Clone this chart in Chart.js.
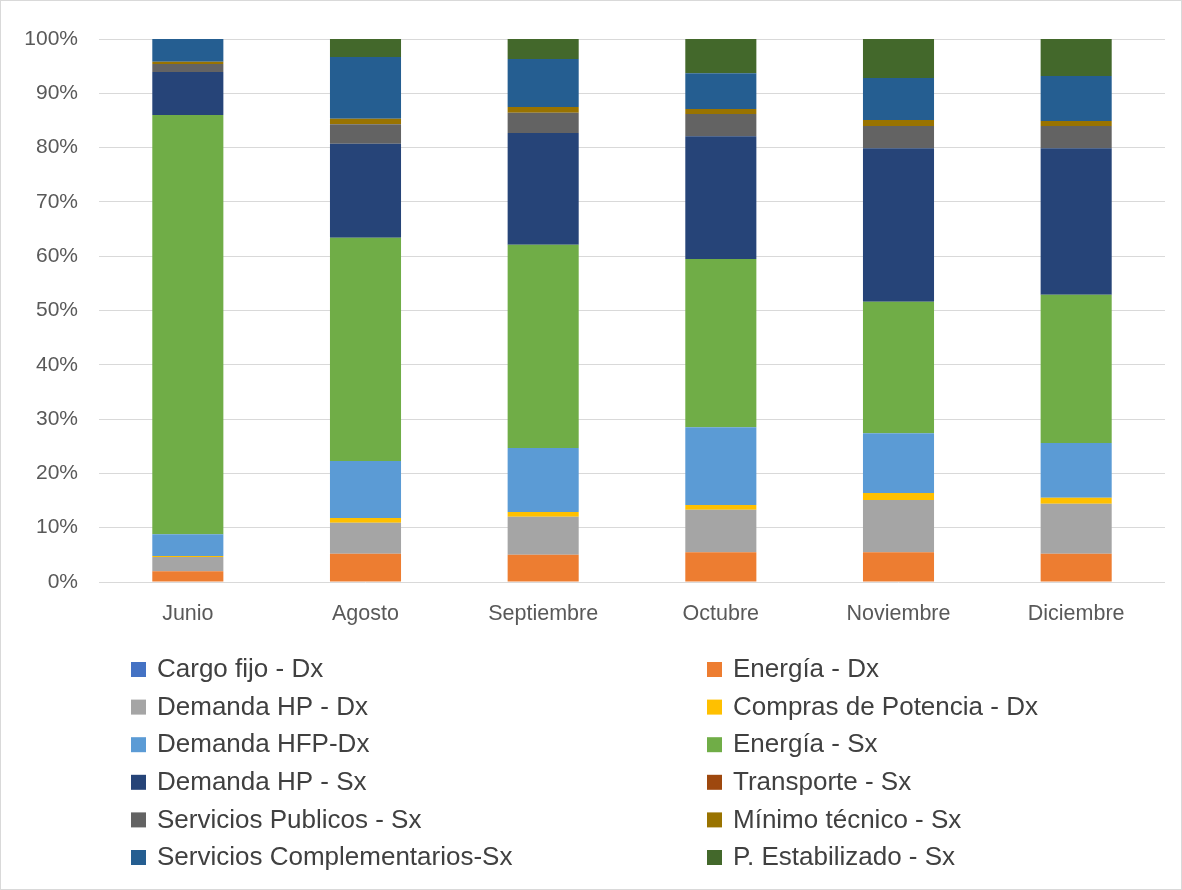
<!DOCTYPE html>
<html>
<head>
<meta charset="utf-8">
<script src="https://cdn.jsdelivr.net/npm/chart.js@4/dist/chart.umd.min.js"></script>
<style>
  html, body { margin: 0; padding: 0; background: #fff; }
  canvas { display: block; }
</style>
</head>
<body>
<canvas id="chart" width="1182" height="890"></canvas>
<script>
// Months on the x axis
const months = ['Junio', 'Agosto', 'Septiembre', 'Octubre', 'Noviembre', 'Diciembre'];

// Share of each cost component per month (%)
const cargoFijoDx      = [0, 0, 0, 0, 0, 0];
const energiaDx        = [2.0, 5.2, 5.0, 5.5, 5.5, 5.2];
const demandaHpDx      = [2.6, 5.7, 7.0, 7.8, 9.6, 9.2];
const comprasPotDx     = [0.2, 0.9, 0.9, 0.9, 1.3, 1.1];
const demandaHfpDx     = [4.0, 10.5, 11.8, 14.3, 11.0, 10.1];
const energiaSx        = [77.2, 41.1, 37.4, 31.0, 24.2, 27.3];
const demandaHpSx      = [7.9, 17.3, 20.6, 22.6, 28.3, 27.0];
const transporteSx     = [0, 0, 0, 0, 0, 0];
const serviciosPubSx   = [1.5, 3.6, 3.7, 4.1, 4.1, 4.1];
const minimoTecnicoSx  = [0.4, 1.0, 1.1, 0.9, 1.1, 0.9];
const serviciosCompSx  = [4.2, 11.4, 8.8, 6.6, 7.7, 8.3];
const pEstabilizadoSx  = [0, 3.3, 3.7, 6.3, 7.2, 6.8];

// y axis ticks
const yTicks = [0, 10, 20, 30, 40, 50, 60, 70, 80, 90, 100];

const series = [
  ['Cargo fijo - Dx', cargoFijoDx, '#4472C4'],
  ['Energía - Dx', energiaDx, '#ED7D31'],
  ['Demanda HP - Dx', demandaHpDx, '#A5A5A5'],
  ['Compras de Potencia - Dx', comprasPotDx, '#FFC000'],
  ['Demanda HFP-Dx', demandaHfpDx, '#5B9BD5'],
  ['Energía - Sx', energiaSx, '#70AD47'],
  ['Demanda HP - Sx', demandaHpSx, '#264478'],
  ['Transporte - Sx', transporteSx, '#9E480E'],
  ['Servicios Publicos - Sx', serviciosPubSx, '#636363'],
  ['Mínimo técnico - Sx', minimoTecnicoSx, '#997300'],
  ['Servicios Complementarios-Sx', serviciosCompSx, '#255E91'],
  ['P. Estabilizado - Sx', pEstabilizadoSx, '#43682B']
];

const FONT = '"Liberation Sans", Arial, sans-serif';

// white page with a thin frame
const frame = {
  id: 'frame',
  beforeDraw(chart) {
    const ctx = chart.ctx;
    ctx.save();
    ctx.fillStyle = '#fff';
    ctx.fillRect(0, 0, chart.width, chart.height);
    ctx.strokeStyle = '#d9d9d9';
    ctx.lineWidth = 1;
    ctx.strokeRect(0.5, 0.5, chart.width - 1, chart.height - 1);
    ctx.restore();
  }
};

// two-column legend under the plot
const legendGrid = {
  id: 'legendGrid',
  afterDraw(chart) {
    const ctx = chart.ctx;
    ctx.save();
    ctx.font = '26px ' + FONT;
    ctx.textBaseline = 'middle';
    chart.data.datasets.forEach((ds, i) => {
      const x = i % 2 ? 707 : 131;
      const y = 669 + Math.floor(i / 2) * 37.6;
      ctx.fillStyle = ds.backgroundColor;
      ctx.fillRect(x, y - 7, 15, 15);
      ctx.fillStyle = '#404040';
      ctx.fillText(ds.label, x + 26, y + 1);
    });
    ctx.restore();
  }
};

new Chart(document.getElementById('chart'), {
  type: 'bar',
  data: {
    labels: months,
    datasets: series.map(([label, data, color]) => ({
      label: label,
      data: data,
      backgroundColor: color,
      borderWidth: 0,
      barPercentage: 0.4,
      categoryPercentage: 1.0
    }))
  },
  options: {
    responsive: false,
    animation: false,
    devicePixelRatio: 1,
    layout: { padding: { top: 39, right: 17, bottom: 0, left: 0 } },
    plugins: {
      legend: { display: false },
      tooltip: { enabled: false }
    },
    scales: {
      x: {
        stacked: true,
        grid: { display: false },
        border: { display: false },
        ticks: { color: '#595959', font: { family: FONT, size: 21.5 }, padding: 11 },
        afterFit: scale => { scale.height = 308; }
      },
      y: {
        stacked: true,
        min: 0,
        max: 100,
        afterBuildTicks: scale => { scale.ticks = yTicks.map(v => ({ value: v })); },
        grid: { color: '#d9d9d9', lineWidth: 1, drawTicks: false },
        border: { display: false },
        ticks: {
          color: '#595959',
          font: { family: FONT, size: 21 },
          padding: 21,
          callback: v => v + '%'
        },
        afterFit: scale => { scale.width = 99; }
      }
    }
  },
  plugins: [frame, legendGrid]
});
</script>
</body>
</html>
